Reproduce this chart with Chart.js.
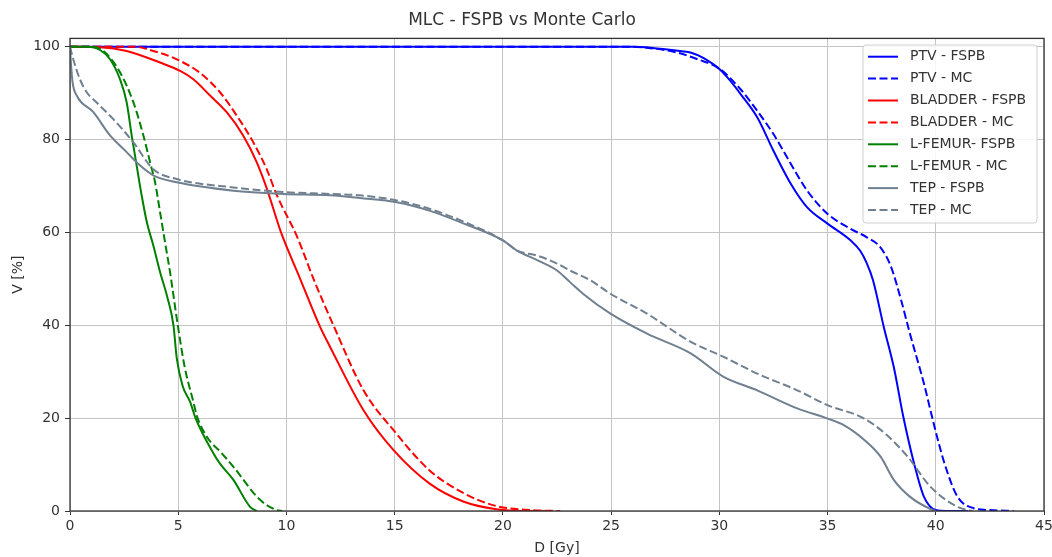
<!DOCTYPE html>
<html><head><meta charset="utf-8">
<script src="https://cdn.jsdelivr.net/npm/chart.js@4.4.1/dist/chart.umd.min.js"></script>
<style>html,body{margin:0;padding:0;background:#fff;}#wrap{width:1052px;height:557px;}</style>
</head><body><div id="wrap"><canvas id="c" width="1052" height="557"></canvas></div>
<script>
const chartTitle = 'MLC - FSPB vs Monte Carlo';
const xTitle = 'D [Gy]';
const yTitle = 'V [%]';
const xTicks = [0, 5, 10, 15, 20, 25, 30, 35, 40, 45];
const yTicks = [0, 20, 40, 60, 80, 100];
const seriesLabels = ['PTV - FSPB', 'PTV - MC', 'BLADDER - FSPB', 'BLADDER - MC', 'L-FEMUR- FSPB', 'L-FEMUR - MC', 'TEP - FSPB', 'TEP - MC'];
const seriesColors = ['#0000ff', '#0000ff', '#ff0000', '#ff0000', '#008000', '#008000', '#708090', '#708090'];

const ptvFspbDose = [0, 26, 27, 28, 28.7, 29.3, 30, 30.5, 31, 31.75, 32.5, 33.3, 34.06, 35.0, 36.06, 36.5, 36.8, 37.1, 37.6, 38.06, 38.5, 39.0, 39.45, 40.0, 40.5, 41.5];
const ptvFspbVol  = [100, 100, 99.7, 99.2, 98.7, 97.5, 95.2, 92.7, 89.7, 84.8, 77.6, 70.5, 65.4, 61.9, 58.3, 56.1, 53.5, 49.7, 39.6, 31, 20.3, 10.2, 3.1, 0.2, 0, 0];

const ptvMcDose = [0, 26, 27, 28, 29, 30, 30.97, 31.75, 32.5, 33.3, 34.06, 35.0, 36.06, 36.8, 37.4, 37.9, 38.4, 38.8, 39.45, 39.9, 40.4, 41.0, 41.75, 42.5, 43.6];
const ptvMcVol  = [100, 100, 99.6, 98.8, 97.3, 95.3, 90.9, 86.2, 81.2, 74.8, 69, 64, 60.8, 59, 57, 53, 45.4, 38.3, 27.5, 18.9, 10.3, 3.1, 0.6, 0.2, 0];

const bladderFspbDose = [0, 1.39, 2.62, 4.16, 5.09, 5.7, 6.47, 7.24, 8.0, 8.63, 9.09, 9.75, 10.6, 11.56, 12.0, 13.56, 14.95, 16.6, 18.2, 19.7, 21.3, 22];
const bladderFspbVol  = [100, 99.9, 99.1, 96.6, 94.8, 93, 89.5, 85.9, 80.9, 75.1, 69.5, 60, 50.4, 39.6, 35.5, 21.7, 13.1, 5.96, 2, 0.4, 0, 0];

const bladderMcDose = [0, 3.0, 3.55, 4.93, 6.0, 6.93, 7.7, 8.47, 9.09, 9.56, 10.5, 11.25, 12.17, 13.56, 14.95, 16.6, 18.2, 19.7, 21.3, 22.65];
const bladderMcVol  = [100, 100, 99.5, 97.3, 94.4, 90.2, 85.2, 79.4, 73.6, 68, 59, 50, 40, 26, 17.4, 8.8, 3.8, 1.07, 0.2, 0];

const femurFspbDose = [0, 0.8, 1.39, 1.85, 2.31, 2.62, 2.85, 3.08, 3.31, 3.55, 3.85, 4.16, 4.5, 4.78, 4.93, 5.2, 5.55, 5.8, 6.63, 6.93, 7.55, 8.32, 8.63];
const femurFspbVol  = [100, 100, 99.3, 97.3, 93, 88, 80.9, 74.4, 68, 62.2, 57.2, 51.5, 46, 40, 33, 27, 23.5, 20, 12.4, 10.2, 6.7, 0.9, 0];

const femurMcDose = [0, 1.0, 1.54, 2.31, 2.93, 3.39, 3.7, 3.93, 4.16, 4.39, 4.62, 4.98, 5.3, 5.7, 5.86, 6.32, 7.0, 7.55, 8.78, 9.55, 9.8];
const femurMcVol  = [100, 100, 99.1, 94.5, 88, 80.9, 75.1, 70.8, 64.4, 57.9, 51.5, 40, 31, 23.5, 20.5, 16, 12.5, 9.5, 2.4, 0.2, 0];

const tepFspbDose = [0, 0.05, 0.12, 0.31, 1.08, 1.85, 2.62, 3.24, 3.85, 4.93, 7.55, 9.86, 12.0, 13.4, 15.1, 16.6, 18.2, 20.0, 20.65, 21.6, 22.5, 23.1, 23.7, 24.97, 26.66, 28.66, 30.2, 31.75, 33.6, 35.0, 35.75, 36.7, 37.45, 38.06, 38.8, 39.76, 40.0];
const tepFspbVol  = [100, 96, 92.3, 89.5, 85.9, 80.9, 77.3, 74.4, 72.3, 70.8, 69, 68.3, 68, 67.4, 66.5, 64.7, 61.9, 58.3, 56.1, 54, 51.8, 49.3, 46.8, 42.5, 38.2, 34, 28.9, 26, 22.1, 19.9, 18.5, 15.3, 11.7, 6.7, 3.1, 0.4, 0];

const tepMcDose = [0, 0.15, 0.46, 0.77, 1.23, 2.0, 2.93, 3.85, 4.93, 7.55, 9.86, 12.0, 13.4, 15.1, 16.6, 18.2, 20.0, 20.65, 21.6, 22.5, 23.1, 24.04, 24.97, 26.66, 28.66, 30.2, 31.75, 33.6, 35.0, 36.7, 37.75, 38.7, 39.76, 41.0, 41.7];
const tepMcVol  = [100, 97.3, 93, 90.2, 88, 84.4, 79.4, 73.6, 71.5, 69.7, 68.7, 68.3, 68, 66.9, 65.1, 62.3, 58.3, 56.1, 55, 53.3, 51.8, 49.7, 46.8, 42.5, 36.5, 33.2, 29.6, 26, 22.8, 19.9, 16.3, 11.7, 5.2, 0.9, 0];

const doseArrays = [ptvFspbDose, ptvMcDose, bladderFspbDose, bladderMcDose, femurFspbDose, femurMcDose, tepFspbDose, tepMcDose];
const volArrays = [ptvFspbVol, ptvMcVol, bladderFspbVol, bladderMcVol, femurFspbVol, femurMcVol, tepFspbVol, tepMcVol];

const FONT = 'DejaVu Sans';
const TXT = '#333333';
const DASH = [8, 3.5];

const datasets = seriesLabels.map((lab, i) => ({
  label: lab,
  data: doseArrays[i].map((d, k) => ({x: d, y: volArrays[i][k]})),
  borderColor: seriesColors[i],
  backgroundColor: seriesColors[i],
  borderWidth: 2,
  borderDash: i % 2 === 1 ? DASH : [],
  pointRadius: 0,
  fill: false,
  cubicInterpolationMode: 'monotone',
  order: -i
}));

const framePlugin = {
  id: 'frame',
  afterDraw(chart) {
    const {ctx, chartArea: a} = chart;
    ctx.save();
    ctx.strokeStyle = '#333333';
    ctx.lineWidth = 1.3;
    ctx.strokeRect(a.left, a.top, a.right - a.left, a.bottom - a.top);
    const bx = 863, by = 45, bw = 174, bh = 178;
    ctx.beginPath();
    ctx.roundRect(bx, by, bw, bh, 3);
    ctx.fillStyle = 'rgba(255,255,255,0.85)';
    ctx.fill();
    ctx.strokeStyle = '#d0d0d0';
    ctx.lineWidth = 1;
    ctx.stroke();
    ctx.font = '14px "' + FONT + '"';
    ctx.textBaseline = 'middle';
    ctx.textAlign = 'left';
    chart.data.datasets.forEach((ds, i) => {
      const y = 56.7 + i * 21.9;
      ctx.beginPath();
      ctx.setLineDash(ds.borderDash || []);
      ctx.strokeStyle = ds.borderColor;
      ctx.lineWidth = 2;
      ctx.moveTo(868, y);
      ctx.lineTo(898, y);
      ctx.stroke();
      ctx.setLineDash([]);
      ctx.fillStyle = TXT;
      ctx.fillText(ds.label, 910, y);
    });
    ctx.restore();
  }
};

new Chart(document.getElementById('c'), {
  type: 'line',
  data: {datasets},
  plugins: [framePlugin],
  options: {
    responsive: false,
    animation: false,
    devicePixelRatio: 1,
    layout: {padding: {left: 0, right: 8, top: 0, bottom: 0}},
    plugins: {
      legend: {display: false},
      tooltip: {enabled: false},
      title: {
        display: true,
        text: chartTitle,
        color: TXT,
        font: {family: FONT, size: 17, weight: 'normal'},
        padding: {top: 10, bottom: 8}
      }
    },
    scales: {
      x: {
        type: 'linear',
        min: 0, max: 45,
        afterBuildTicks: s => { s.ticks = xTicks.map(v => ({value: v})); },
        afterFit: s => { s.height = 46; s.paddingLeft = 0; s.paddingRight = 0; },
        ticks: {color: TXT, font: {family: FONT, size: 14}, padding: 3, maxRotation: 0, autoSkip: false},
        grid: {color: '#c4c4c4', lineWidth: 1, tickLength: 4, tickColor: '#333333', tickWidth: 1},
        border: {display: false},
        title: {display: true, text: xTitle, color: TXT, font: {family: FONT, size: 14}, padding: {top: 0, bottom: 0}}
      },
      y: {
        type: 'linear',
        min: 0, max: 101.8,
        afterBuildTicks: s => { s.ticks = yTicks.map(v => ({value: v})); },
        afterFit: s => { s.width = 70; s.paddingTop = 0; s.paddingBottom = 0; },
        ticks: {color: TXT, font: {family: FONT, size: 14}, padding: 5},
        grid: {color: '#c4c4c4', lineWidth: 1, tickLength: 5, tickColor: '#333333', tickWidth: 1},
        border: {display: false},
        title: {display: true, text: yTitle, color: TXT, font: {family: FONT, size: 14}, padding: {top: 10, bottom: 0}}
      }
    }
  }
});
</script></body></html>
